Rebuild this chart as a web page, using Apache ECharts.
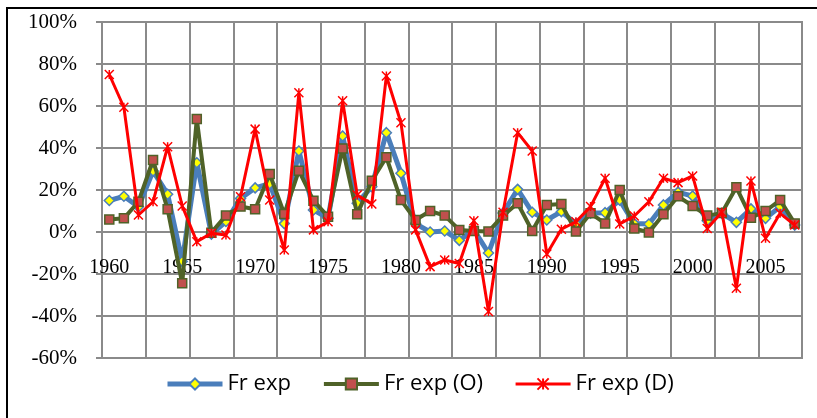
<!DOCTYPE html>
<html>
<head>
<meta charset="utf-8">
<script src="https://cdn.jsdelivr.net/npm/echarts@6/dist/echarts.min.js"></script>
<style>
html,body{margin:0;padding:0;background:#fff;}
#chart{width:817px;height:418px;}
</style>
</head>
<body>
<div id="chart"></div>
<script>
var years = ['1960','1961','1962','1963','1964','1965','1966','1967','1968','1969',
             '1970','1971','1972','1973','1974','1975','1976','1977','1978','1979',
             '1980','1981','1982','1983','1984','1985','1986','1987','1988','1989',
             '1990','1991','1992','1993','1994','1995','1996','1997','1998','1999',
             '2000','2001','2002','2003','2004','2005','2006','2007'];
var yTicks = [-60, -40, -20, 0, 20, 40, 60, 80, 100];
var seriesNames = ['Fr exp', 'Fr exp (O)', 'Fr exp (D)'];
var frExp = [15, 17, 12, 29, 18, -14, 33, -1, 5, 16,
             21, 23, 4, 38.6, 10.5, 6.5, 45.7, 13.7, 21.6, 47.3,
             28, 4, 0, 0.5, -4, 1, -10, 9, 20.3, 9.4,
             5.7, 9.7, 4, 9, 9.2, 15.2, 4, 3.8, 12.9, 19,
             17.1, 5.4, 8.9, 4.6, 11, 6.5, 12.1, 3.3];
var frExpO = [6, 6.5, 14.4, 34.3, 10.8, -24.4, 53.8, -0.3, 7.8, 12.1,
              10.8, 27.6, 8.6, 29.2, 14.9, 7.3, 39.8, 8.4, 24.4, 35.6,
              15.2, 5.7, 10, 7.8, 1, 0.5, 0.2, 7.8, 13.7, 0.5,
              12.9, 13.3, 0.2, 8.9, 4.1, 20, 1.7, -0.2, 8.4, 17,
              12.4, 7.8, 9, 21.3, 6.8, 10, 15.2, 4.1];
var frExpD = [75, 59.4, 8.1, 14.4, 40.6, 12.4, -4.6, -0.6, -1.4, 16.8,
              49, 15.2, -8.6, 66.3, 1, 4.9, 62.5, 17.6, 13.3, 74.3,
              52, 1, -16.5, -13.3, -15, 5.4, -37.9, 9.4, 47.3, 38.6,
              -10.5, 1.3, 4.9, 12.1, 25.6, 3.8, 7.6, 14.4, 25.6, 23.5,
              26.7, 1.7, 9.4, -26.8, 24.3, -3, 8.9, 3.3];

var gridColor = '#8a8a8a';
var colors = {blue: '#4A7EBB', green: '#4F6228', red: '#FF0000'};
var chart = echarts.init(document.getElementById('chart'), null, {renderer: 'canvas'});
var starPath = 'path://M0,0L10,10M10,0L0,10M5,0L5,10';
var plotTop = 22, plotBottom = 358;
var zeroOffset = -(plotBottom - plotTop) * (0 - yTicks[0]) / (yTicks[yTicks.length - 1] - yTicks[0]);

chart.setOption({
  animation: false,
  backgroundColor: '#ffffff',
  graphic: [{
    type: 'rect', silent: true, z: -1,
    shape: {x: 7, y: 8, width: 900, height: 500},
    style: {fill: 'none', stroke: '#000', lineWidth: 2}
  }],
  grid: {left: 102, right: 15, top: plotTop, bottom: 418 - plotBottom, containLabel: false,
         show: true, borderColor: gridColor, borderWidth: 2, backgroundColor: 'transparent'},
  legend: {
    left: 160, top: 368,
    itemWidth: 55, itemHeight: 14, itemGap: 31,
    textStyle: {fontFamily: 'Open Sans', fontSize: 22, color: '#000'},
    data: [
      {name: seriesNames[0], lineStyle: {width: 5, color: colors.blue}},
      {name: seriesNames[1], lineStyle: {width: 4, color: colors.green}},
      {name: seriesNames[2], lineStyle: {width: 3, color: colors.red}}
    ]
  },
  xAxis: [{
    type: 'category',
    data: years,
    boundaryGap: true,
    position: 'bottom',
    offset: zeroOffset,
    axisLine: {show: true, onZero: false, lineStyle: {color: gridColor, width: 2}},
    axisTick: {show: false},
    axisLabel: {
      interval: 4, margin: 26,
      fontFamily: 'Liberation Serif', fontSize: 20, color: '#000'
    },
    splitLine: {show: false}
  }, {
    type: 'category',
    data: years,
    boundaryGap: true,
    position: 'bottom',
    axisLine: {show: false, onZero: false},
    axisTick: {show: false},
    axisLabel: {show: false},
    splitLine: {show: true, interval: 2, lineStyle: {color: gridColor, width: 2}}
  }],
  yAxis: {
    type: 'value',
    min: yTicks[0], max: yTicks[yTicks.length - 1], interval: 20,
    axisLine: {show: true, lineStyle: {color: gridColor, width: 2}},
    axisTick: {show: true, length: 6, lineStyle: {color: gridColor, width: 2}},
    axisLabel: {formatter: '{value}%', margin: 25,
      fontFamily: 'Liberation Serif', fontSize: 21, color: '#000'},
    splitLine: {show: true, lineStyle: {color: gridColor, width: 2}}
  },
  series: [
    {
      name: seriesNames[0], type: 'line', data: frExp,
      showAllSymbol: true, symbol: 'diamond', symbolSize: 10,
      lineStyle: {color: colors.blue, width: 5},
      itemStyle: {color: '#FFFF00', borderColor: colors.blue, borderWidth: 1.5},
      z: 2
    },
    {
      name: seriesNames[1], type: 'line', data: frExpO,
      showAllSymbol: true, symbol: 'rect', symbolSize: 9,
      lineStyle: {color: colors.green, width: 4},
      itemStyle: {color: '#C0504D', borderColor: colors.green, borderWidth: 1.5},
      z: 3
    },
    {
      name: seriesNames[2], type: 'line', data: frExpD,
      showAllSymbol: true, symbol: starPath, symbolSize: 9,
      lineStyle: {color: colors.red, width: 3},
      itemStyle: {color: colors.red, borderColor: colors.red, borderWidth: 1.5},
      z: 4
    }
  ]
});
</script>
</body>
</html>
